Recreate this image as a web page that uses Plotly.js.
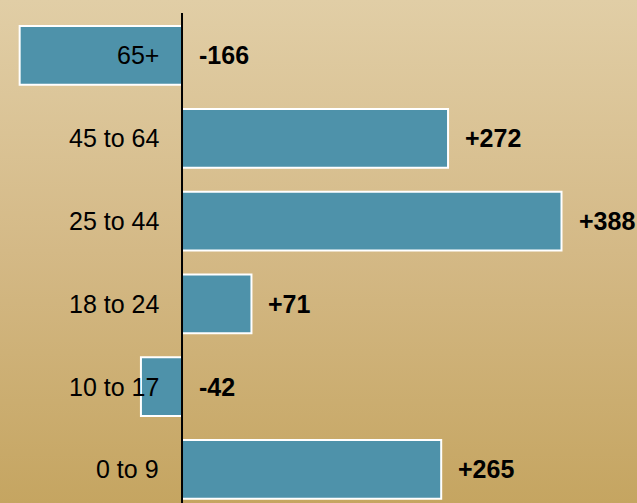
<!DOCTYPE html>
<html>
<head>
<meta charset="utf-8">
<script src="https://cdn.plot.ly/plotly-3.0.1.min.js"></script>
<style>
html, body { margin: 0; padding: 0; }
body { width: 637px; height: 503px; background: linear-gradient(to bottom, #e1cea6 0%, #d4b986 50%, #c5a561 100%); }
#chart { width: 637px; height: 503px; }
</style>
</head>
<body>
<div id="chart"></div>
<script>
// Age groups, top to bottom
const categories = ["65+", "45 to 64", "25 to 44", "18 to 24", "10 to 17", "0 to 9"];
// Change values
const values = [-166, 272, 388, 71, -42, 265];
// Value label text
const valueLabels = ["-166", "+272", "+388", "+71", "-42", "+265"];

const trace = {
  type: "bar",
  orientation: "h",
  y: categories,
  x: values,
  width: 0.71,
  marker: { color: "#4e92aa", line: { color: "#ffffff", width: 2 } },
  hoverinfo: "none"
};

const annotations = [];
categories.forEach((c, i) => {
  annotations.push({
    x: 0, y: c, xref: "x", yref: "y",
    text: c, showarrow: false, xanchor: "right", yanchor: "middle",
    xshift: -21,
    font: { family: "Arial, Liberation Sans, sans-serif", size: 25, color: "#000000" }
  });
  annotations.push({
    x: Math.max(values[i], 0), y: c, xref: "x", yref: "y",
    text: "<b>" + valueLabels[i] + "</b>", showarrow: false, xanchor: "left", yanchor: "middle",
    xshift: 15,
    font: { family: "Arial, Liberation Sans, sans-serif", size: 25, color: "#000000" }
  });
});

const layout = {
  width: 637, height: 503,
  margin: { l: 0, r: 0, t: 13, b: 0, pad: 0 },
  paper_bgcolor: "rgba(0,0,0,0)",
  plot_bgcolor: "rgba(0,0,0,0)",
  showlegend: false,
  xaxis: { range: [-186.1, 465.2], showgrid: false, zeroline: false, showticklabels: false, showline: false, fixedrange: true },
  yaxis: { type: "category", range: [5.405, -0.513], showgrid: false, zeroline: false, showticklabels: false, showline: false, fixedrange: true },
  shapes: [{
    type: "line", xref: "x", yref: "paper", x0: 0, x1: 0, y0: 0, y1: 1,
    line: { color: "#000000", width: 2 }, layer: "above"
  }],
  annotations: annotations
};

Plotly.newPlot("chart", [trace], layout, { displayModeBar: false, staticPlot: true });
</script>
</body>
</html>
